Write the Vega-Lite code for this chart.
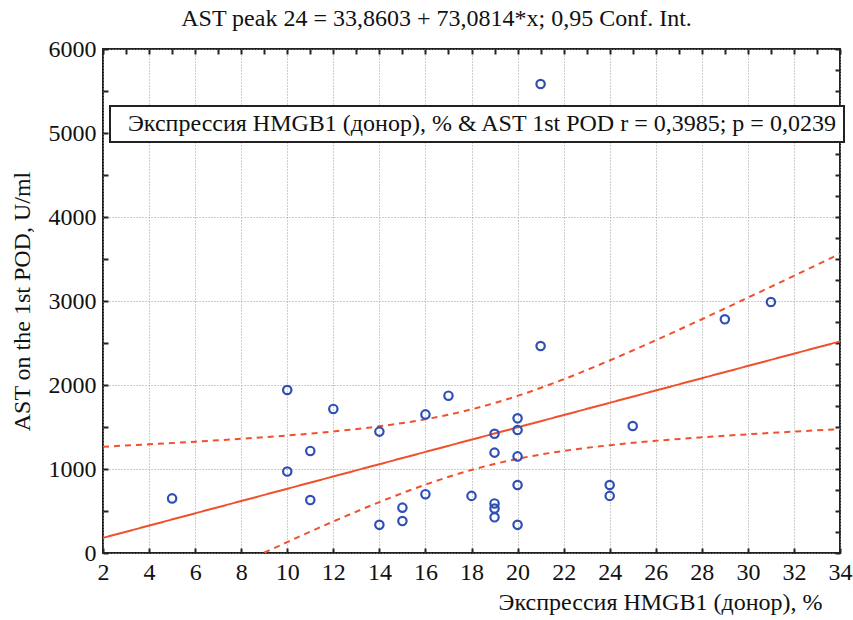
{
  "$schema": "https://vega.github.io/schema/vega-lite/v6.json",
  "width": 737,
  "height": 504,
  "autosize": {"type": "none"},
  "padding": {"left": 103, "top": 49, "right": 13, "bottom": 67},
  "background": "white",
  "title": {
    "text": "AST peak 24 = 33,8603 + 73,0814*x; 0,95 Conf. Int.",
    "font": "Liberation Serif, Times New Roman, serif",
    "fontSize": 24,
    "fontWeight": "normal",
    "color": "#111",
    "anchor": "middle",
    "dx": -35,
    "dy": 15,
    "baseline": "alphabetic",
    "offset": 2
  },
  "config": {
    "font": "Liberation Serif",
    "view": {"stroke": "#222", "strokeWidth": 2},
    "axis": {
      "labelFontSize": 24,
      "titleFontSize": 24,
      "titleFontWeight": "normal",
      "labelColor": "#111",
      "titleColor": "#111",
      "tickColor": "#222",
      "tickWidth": 2,
      "tickSize": -5,
      "domain": false,
      "gridColor": "#9a9a9a",
      "gridDash": [1, 2],
      "gridWidth": 1
    },
    "legend": {
      "labelFontSize": 24,
      "labelColor": "#111",
      "labelLimit": 2000,
      "strokeColor": "#222",
      "strokeWidth": 2,
      "fillColor": "white",
      "padding": 6,
      "symbolOpacity": 0,
      "symbolStrokeWidth": 0,
      "symbolSize": 1,
      "labelOffset": -12,
      "cornerRadius": 0
    }
  },
  "datasets": {
    "pts": [
      {"x": 5, "y": 650}, {"x": 10, "y": 1940}, {"x": 10, "y": 970}, {"x": 11, "y": 1215},
      {"x": 11, "y": 630}, {"x": 12, "y": 1715}, {"x": 14, "y": 1445}, {"x": 14, "y": 335},
      {"x": 15, "y": 540}, {"x": 15, "y": 380}, {"x": 16, "y": 1650}, {"x": 16, "y": 700},
      {"x": 17, "y": 1873}, {"x": 18, "y": 680}, {"x": 19, "y": 1420}, {"x": 19, "y": 1195},
      {"x": 19, "y": 590}, {"x": 19, "y": 530}, {"x": 19, "y": 425}, {"x": 20, "y": 1603},
      {"x": 20, "y": 1464}, {"x": 20, "y": 1150}, {"x": 20, "y": 810}, {"x": 20, "y": 335},
      {"x": 21, "y": 2464}, {"x": 21, "y": 5583}, {"x": 24, "y": 810}, {"x": 24, "y": 680},
      {"x": 25, "y": 1512}, {"x": 29, "y": 2782}, {"x": 31, "y": 2988}
    ],
    "lines": [
      {"line": "fit", "kind": "fit", "x": 2, "y": 180}, {"line": "fit", "kind": "fit", "x": 34, "y": 2519},
      {"line": "upper", "kind": "band", "x": 2, "y": 1265}, {"line": "upper", "kind": "band", "x": 4, "y": 1294},
      {"line": "upper", "kind": "band", "x": 6, "y": 1325}, {"line": "upper", "kind": "band", "x": 8, "y": 1360},
      {"line": "upper", "kind": "band", "x": 10, "y": 1399}, {"line": "upper", "kind": "band", "x": 12, "y": 1447},
      {"line": "upper", "kind": "band", "x": 14, "y": 1508}, {"line": "upper", "kind": "band", "x": 16, "y": 1592},
      {"line": "upper", "kind": "band", "x": 18, "y": 1710}, {"line": "upper", "kind": "band", "x": 20, "y": 1870},
      {"line": "upper", "kind": "band", "x": 22, "y": 2068}, {"line": "upper", "kind": "band", "x": 24, "y": 2292},
      {"line": "upper", "kind": "band", "x": 26, "y": 2533}, {"line": "upper", "kind": "band", "x": 28, "y": 2783},
      {"line": "upper", "kind": "band", "x": 30, "y": 3040}, {"line": "upper", "kind": "band", "x": 32, "y": 3300},
      {"line": "upper", "kind": "band", "x": 34, "y": 3562},
      {"line": "lower", "kind": "band", "x": 9, "y": 4}, {"line": "lower", "kind": "band", "x": 10, "y": 130},
      {"line": "lower", "kind": "band", "x": 12, "y": 375}, {"line": "lower", "kind": "band", "x": 14, "y": 606},
      {"line": "lower", "kind": "band", "x": 16, "y": 814}, {"line": "lower", "kind": "band", "x": 18, "y": 989},
      {"line": "lower", "kind": "band", "x": 20, "y": 1121}, {"line": "lower", "kind": "band", "x": 22, "y": 1215},
      {"line": "lower", "kind": "band", "x": 24, "y": 1283}, {"line": "lower", "kind": "band", "x": 26, "y": 1335},
      {"line": "lower", "kind": "band", "x": 28, "y": 1377}, {"line": "lower", "kind": "band", "x": 30, "y": 1413},
      {"line": "lower", "kind": "band", "x": 32, "y": 1445}, {"line": "lower", "kind": "band", "x": 34, "y": 1475}
    ]
  },
  "layer": [
    {
      "layer": [
        {
          "data": {"name": "lines"},
          "mark": {"type": "line", "color": "#f0502d", "strokeWidth": 2, "interpolate": "monotone", "clip": true},
          "encoding": {
            "x": {
              "field": "x", "type": "quantitative",
              "scale": {"domain": [2, 34], "nice": false, "zero": false},
              "axis": {
                "values": [2,3,4,5,6,7,8,9,10,11,12,13,14,15,16,17,18,19,20,21,22,23,24,25,26,27,28,29,30,31,32,33,34],
                "labelExpr": "datum.value % 2 === 0 ? datum.label : ''",
                "gridOpacity": {"condition": {"test": "datum.value % 2 === 0", "value": 1}, "value": 0},
                "labelFont": "Liberation Serif",
                "titleFont": "Liberation Serif",
                "labelPadding": 12,
                "labelFlush": false,
                "labelOverlap": false,
                "title": "Экспрессия HMGB1 (донор), %",
                "titleAlign": "right",
                "titleAnchor": "end",
                "titleX": 719,
                "titleY": 56,
                "titleBaseline": "alphabetic"
              }
            },
            "y": {
              "field": "y", "type": "quantitative",
              "scale": {"domain": [0, 6000], "nice": false},
              "axis": {
                "values": [0,250,500,750,1000,1250,1500,1750,2000,2250,2500,2750,3000,3250,3500,3750,4000,4250,4500,4750,5000,5250,5500,5750,6000],
                "labelExpr": "datum.value % 1000 === 0 ? datum.label : ''",
                "format": "d",
                "gridOpacity": {"condition": {"test": "datum.value % 1000 === 0", "value": 1}, "value": 0},
                "labelFont": "Liberation Serif",
                "titleFont": "Liberation Serif",
                "labelPadding": 12,
                "labelFlush": false,
                "labelOverlap": false,
                "title": "AST on the 1st POD, U/ml",
                "titlePadding": 14
              }
            },
            "detail": {"field": "line"},
            "strokeDash": {
              "field": "kind", "type": "nominal",
              "scale": {"domain": ["fit", "band"], "range": [[1, 0], [6, 5]]},
              "legend": null
            }
          }
        },
        {
          "data": {"name": "pts"},
          "mark": {"type": "point", "shape": "circle", "filled": false, "strokeWidth": 2.2, "size": 70, "opacity": 1},
          "encoding": {
            "x": {"field": "x", "type": "quantitative"},
            "y": {"field": "y", "type": "quantitative"},
            "color": {
              "datum": "Экспрессия HMGB1 (донор), % & AST 1st POD r = 0,3985; p = 0,0239",
              "type": "nominal",
              "scale": {"range": ["#2f4fb5"]},
              "legend": {
                "orient": "none", "legendX": 7, "legendY": 57, "title": null,
                "labelFont": "Liberation Serif"
              }
            }
          }
        }
      ]
    },
    {
      "data": {"name": "pts"},
      "mark": {"type": "point", "opacity": 0},
      "encoding": {
        "x": {
          "field": "x", "type": "quantitative",
          "scale": {"domain": [2, 34], "nice": false, "zero": false},
          "axis": {
            "orient": "top",
            "values": [2,3,4,5,6,7,8,9,10,11,12,13,14,15,16,17,18,19,20,21,22,23,24,25,26,27,28,29,30,31,32,33,34],
            "labels": false, "grid": false, "title": null
          }
        },
        "y": {
          "field": "y", "type": "quantitative",
          "scale": {"domain": [0, 6000], "nice": false},
          "axis": {
            "orient": "right",
            "values": [0,250,500,750,1000,1250,1500,1750,2000,2250,2500,2750,3000,3250,3500,3750,4000,4250,4500,4750,5000,5250,5500,5750,6000],
            "labels": false, "grid": false, "title": null
          }
        }
      }
    }
  ],
  "resolve": {"axis": {"x": "independent", "y": "independent"}}
}
